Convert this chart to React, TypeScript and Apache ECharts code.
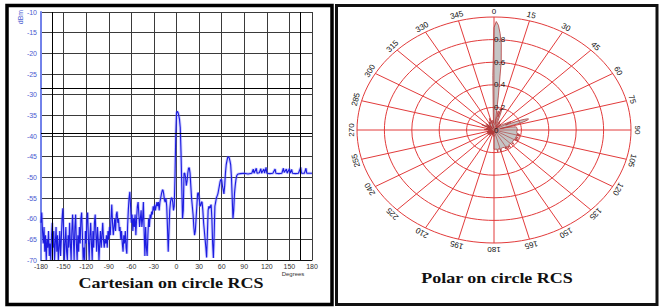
import React, { useEffect, useRef } from "react";
import * as echarts from "echarts";

// Cartesian RCS trace (degrees, dBm)
const angleDeg = [
  -180, -179, -178, -177, -176, -175, -174, -173, -172, -171,
  -170, -169, -168, -167, -166, -165, -164, -163, -162, -161,
  -160, -159, -158, -157, -156, -155, -154, -153, -152, -151,
  -150, -149, -148, -147, -146, -145, -144, -143, -142, -141,
  -140, -139, -138, -137, -136, -135, -134, -133, -132, -131,
  -130, -129, -128, -127, -126, -125, -124, -123, -122, -121,
  -120, -119, -118, -117, -116, -115, -114, -113, -112, -111,
  -110, -109, -108, -107, -106, -105, -104, -103, -102, -101,
  -100, -99, -98, -97, -96, -95, -94, -93, -92, -91,
  -90, -89, -88, -87, -86, -85, -84, -83, -82, -81,
  -80, -79, -78, -77, -76, -75, -74, -73, -72, -71,
  -70, -69, -68, -67, -66, -65, -64, -63, -62, -61,
  -60, -59, -58, -57, -56, -55, -54, -53, -52, -51,
  -50, -49, -48, -47, -46, -45, -44, -43, -42, -41,
  -40, -39, -38, -37, -36, -35, -34, -33, -32, -31,
  -30, -29, -28, -27, -26, -25, -24, -23, -22, -21,
  -20, -19, -18, -17, -16, -15, -14, -13, -12, -11,
  -10, -9, -8, -7, -6, -5, -4, -3, -2, -1,
  0, 1, 2, 3, 4, 5, 6, 7, 8, 9,
  10, 11, 12, 13, 14, 15, 16, 17, 18, 19,
  20, 21, 22, 23, 24, 25, 26, 27, 28, 29,
  30, 31, 32, 33, 34, 35, 36, 37, 38, 39,
  40, 41, 42, 43, 44, 45, 46, 47, 48, 49,
  50, 51, 52, 53, 54, 55, 56, 57, 58, 59,
  60, 61, 62, 63, 64, 65, 66, 67, 68, 69,
  70, 71, 72, 73, 74, 75, 76, 77, 78, 79,
  80, 81, 82, 85, 90, 95, 100, 102, 103, 106,
  107, 110, 112, 113, 116, 117, 119, 120, 124, 128,
  131, 132, 136, 140, 142, 143, 146, 147, 150, 151,
  153, 154, 158, 162, 165, 166, 170, 172, 173, 176,
  180,
];
const rcsDbm = [
  -61, -58.5, -63, -66, -62, -68, -64, -70, -65, -67,
  -63, -69, -66, -70, -64, -61, -67, -63, -70, -66,
  -62, -68, -64, -70, -67, -63, -69, -65, -60, -57.5,
  -63, -70, -66, -62, -68, -70, -64, -67, -61, -66,
  -70, -63, -59, -65, -70, -62, -59, -66, -70, -64,
  -68, -62, -66, -60, -58.5, -64, -70, -67, -70, -63,
  -66, -60, -58.5, -65, -70, -64, -61, -66, -70, -63,
  -67, -61, -59, -64, -68, -62, -65, -70, -66, -63,
  -67, -64, -61, -65, -67, -65, -66, -64, -67, -63,
  -65, -62, -64, -60, -56.6, -61, -64, -62, -60, -63,
  -59, -58.3, -61, -60, -63, -62, -65, -63, -66, -68,
  -64, -66, -63, -67, -68.5, -62, -58, -55, -53.5, -57,
  -61, -59, -63, -60, -62, -59, -64, -60, -57, -56,
  -59, -62, -60, -58, -62, -60, -56, -63, -69, -62,
  -67, -69, -64, -60, -62, -59, -60, -58.3, -59, -57,
  -58, -56.6, -58, -57, -56, -57, -56, -58, -56, -55,
  -54, -53.2, -53, -54, -55.5, -56, -55, -57, -62, -68,
  -63, -58, -56, -55, -55, -56, -58, -57, -50, -40,
  -34.5, -34, -34.3, -35, -36, -38, -44, -52, -60, -58,
  -49, -49, -50, -52, -51, -49, -47.8, -47.7, -49, -52,
  -55, -57, -59, -62, -64, -63, -60, -57, -54, -53.7,
  -55, -56.6, -57, -56, -56, -58, -61, -63, -65, -67,
  -69.4, -64, -58, -57, -57.5, -57, -56.6, -60, -66, -69.5,
  -64, -57, -56, -55, -54.5, -54, -53, -52, -51, -50.5,
  -50.6, -52, -53, -54, -52, -49, -47, -46, -45.2, -45,
  -45.3, -46, -47, -50, -55, -60, -58, -54, -52, -50.5,
  -49.6, -49.3, -49.2, -49.1, -49, -49.2, -49, -48, -49, -47.8,
  -49, -48.9, -47.9, -49, -48, -49, -47.6, -49, -49.1, -49,
  -48, -49, -49.1, -49, -47.8, -48.8, -48, -49, -47.9, -49,
  -48.1, -49, -49.1, -49, -47.6, -49, -49, -47.8, -49, -49,
  -49,
];

// extra dark reference lines seen in the cartesian grid
const refLevelsDbm = [-28.4, -39.3];
const refAnglesDeg = [-165, 165];

// polar grid
const polarRings = [0.2, 0.4, 0.6, 0.8, 1.0];
const polarRingLabels = [0, 0.2, 0.4, 0.6, 0.8];
const polarSpokes = [0, 15, 30, 45, 60, 75, 90, 105, 120, 135, 150, 165, 180, 195, 210, 225, 240, 255, 270, 285, 300, 315, 330, 345];
// linear amplitude normalisation of the polar plot
const peakDbm = -34;
const peakRadius = 0.96;

const SANS = "'Liberation Sans', Arial, sans-serif";
const SERIF = "'Liberation Serif', 'Times New Roman', serif";
const RED = "#e23b3b";

export default function App() {
  const ref = useRef<HTMLDivElement>(null);

  useEffect(() => {
    const chart = echarts.init(ref.current as HTMLDivElement, null, { renderer: "svg" });

    const linePts = angleDeg.map((d, i) => [d, rcsDbm[i]]);
    const polarPts = angleDeg.map((d, i) => {
      const r = peakRadius * Math.pow(10, (rcsDbm[i] - peakDbm) / 20);
      const a = (d * Math.PI) / 180;
      return [r * Math.sin(a), r * Math.cos(a)];
    });

    const option: any = {
      animation: false,
      backgroundColor: "#ffffff",
      grid: [
        { left: 41, top: 12, width: 271, height: 248 },
        { left: 357, top: 17, width: 274, height: 226 },
      ],
      xAxis: [
        {
          gridIndex: 0,
          type: "value",
          min: -180,
          max: 180,
          interval: 30,
          axisLine: { onZero: false, lineStyle: { color: "#111", width: 1 } },
          axisTick: { show: false },
          axisLabel: { fontSize: 7, color: "#333", margin: 3, fontFamily: SANS },
          splitLine: { show: true, lineStyle: { color: "#3a3a3a", width: 1 } },
        },
        { gridIndex: 1, type: "value", min: -1, max: 1, show: false, splitLine: { show: false } },
      ],
      yAxis: [
        {
          gridIndex: 0,
          type: "value",
          min: -70,
          max: -10,
          interval: 5,
          axisLine: { show: true, onZero: false, lineStyle: { color: "#7282ea", width: 2 } },
          axisTick: { show: false },
          axisLabel: { fontSize: 7, color: "#4a5ad0", margin: 4, fontFamily: SANS },
          splitLine: { show: true, lineStyle: { color: "#3a3a3a", width: 1 } },
        },
        { gridIndex: 1, type: "value", min: -1, max: 1, show: false, splitLine: { show: false } },
      ],
      series: [
        {
          type: "line",
          xAxisIndex: 0,
          yAxisIndex: 0,
          data: linePts,
          showSymbol: false,
          symbol: "none",
          lineStyle: { color: "rgba(110,110,255,0.35)", width: 3 },
          silent: true,
          markLine: {
            silent: true,
            symbol: "none",
            label: { show: false },
            lineStyle: { color: "#000", type: "solid", width: 1 },
            data: [
              ...refLevelsDbm.map((v) => ({ yAxis: v })),
              ...refAnglesDeg.map((v) => ({ xAxis: v })),
            ],
          },
        },
        {
          type: "line",
          xAxisIndex: 0,
          yAxisIndex: 0,
          data: linePts,
          showSymbol: false,
          symbol: "none",
          lineStyle: { color: "#1c1ce0", width: 1.1 },
          silent: true,
        },
        {
          type: "custom",
          xAxisIndex: 1,
          yAxisIndex: 1,
          silent: true,
          data: polarRings.map((r) => [0, 0, r]),
          renderItem: (params: any, api: any) => {
            const r = api.value(2);
            const c = api.coord([0, 0]);
            const e = api.coord([r, r]);
            return {
              type: "ellipse",
              shape: { cx: c[0], cy: c[1], rx: e[0] - c[0], ry: c[1] - e[1] },
              style: { fill: "none", stroke: RED, lineWidth: 1 },
            };
          },
        },
        {
          type: "custom",
          xAxisIndex: 1,
          yAxisIndex: 1,
          silent: true,
          data: polarSpokes.map((d) => [0, 0, d]),
          renderItem: (params: any, api: any) => {
            const deg = api.value(2);
            const a = (deg * Math.PI) / 180;
            const c = api.coord([0, 0]);
            const e = api.coord([Math.sin(a), Math.cos(a)]);
            const dx = e[0] - c[0];
            const dy = e[1] - c[1];
            const len = Math.sqrt(dx * dx + dy * dy);
            const lx = e[0] + (dx / len) * 6;
            const ly = e[1] + (dy / len) * 6;
            return {
              type: "group",
              children: [
                {
                  type: "line",
                  shape: { x1: c[0], y1: c[1], x2: e[0], y2: e[1] },
                  style: { stroke: RED, lineWidth: 1 },
                },
                {
                  type: "text",
                  x: lx,
                  y: ly,
                  rotation: -a,
                  style: {
                    text: String(deg),
                    fill: "#111",
                    font: `8px ${SANS}`,
                    align: "center",
                    verticalAlign: "middle",
                  },
                },
              ],
            };
          },
        },
        {
          type: "custom",
          xAxisIndex: 1,
          yAxisIndex: 1,
          silent: true,
          data: [[0, 0]],
          renderItem: (params: any, api: any) => {
            const pts = polarPts.map((p) => api.coord(p));
            return {
              type: "polygon",
              shape: { points: pts },
              style: { fill: "rgba(150,150,150,0.55)", stroke: "#b23a3a", lineWidth: 0.8 },
            };
          },
        },
        {
          type: "custom",
          xAxisIndex: 1,
          yAxisIndex: 1,
          silent: true,
          data: polarRingLabels.map((r) => [0, r]),
          renderItem: (params: any, api: any) => {
            const r = api.value(1);
            const p = api.coord([0, r]);
            return {
              type: "text",
              x: p[0],
              y: p[1],
              style: {
                text: r === 0 ? "0" : r.toFixed(1),
                fill: "#111",
                font: `8px ${SANS}`,
                align: "left",
                verticalAlign: "middle",
              },
            };
          },
        },
      ],
      graphic: [
        {
          type: "rect",
          shape: { x: 7, y: 5.5, width: 325, height: 299 },
          style: { fill: "none", stroke: "#000", lineWidth: 3.5 },
          silent: true,
        },
        {
          type: "rect",
          shape: { x: 336.5, y: 5.5, width: 320.5, height: 299 },
          style: { fill: "none", stroke: "#111", lineWidth: 3 },
          silent: true,
        },
        {
          type: "text",
          x: 20,
          y: 17,
          rotation: Math.PI / 2,
          style: { text: "dBm", fill: "#4a5ad0", font: `7px ${SANS}`, align: "center", verticalAlign: "middle" },
          silent: true,
        },
        {
          type: "text",
          x: 293,
          y: 273.5,
          style: { text: "Degrees", fill: "#333", font: `6px ${SANS}`, align: "center", verticalAlign: "middle" },
          silent: true,
        },
        {
          type: "text",
          x: 171,
          y: 283,
          scaleX: 1.2,
          style: {
            text: "Cartesian on circle RCS",
            fill: "#111",
            font: `bold 15px ${SERIF}`,
            align: "center",
            verticalAlign: "middle",
          },
          silent: true,
        },
        {
          type: "text",
          x: 497,
          y: 278,
          scaleX: 1.2,
          style: {
            text: "Polar on circle RCS",
            fill: "#111",
            font: `bold 15px ${SERIF}`,
            align: "center",
            verticalAlign: "middle",
          },
          silent: true,
        },
      ],
    };

    chart.setOption(option);
    return () => chart.dispose();
  }, []);

  return (
    <div
      ref={ref}
      style={{ position: "absolute", left: 0, top: 0, width: 661, height: 308, background: "#fff" }}
    />
  );
}
